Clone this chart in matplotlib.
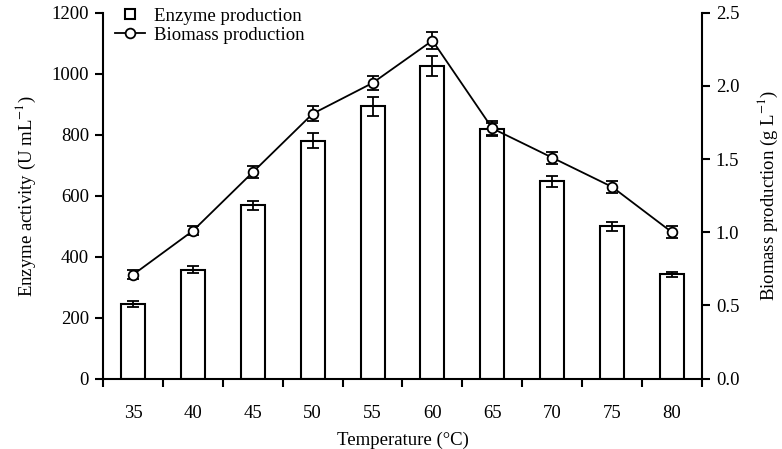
import matplotlib.pyplot as plt
import numpy as np
from matplotlib.lines import Line2D

plt.rcParams["font.family"] = ["Liberation Serif", "DejaVu Serif"]
plt.rcParams["mathtext.fontset"] = "stix"

temps = ["35", "40", "45", "50", "55", "60", "65", "70", "75", "80"]
enzyme = [245, 358, 568, 780, 893, 1025, 820, 648, 500, 343]
enzyme_err = [10, 12, 16, 25, 32, 32, 20, 18, 15, 8]
biomass = [0.71, 1.01, 1.41, 1.81, 2.02, 2.31, 1.71, 1.51, 1.31, 1.00]
biomass_err = [0.03, 0.03, 0.04, 0.05, 0.05, 0.06, 0.05, 0.04, 0.04, 0.04]

FS = 13.5

fig = plt.figure(figsize=(7.82, 4.49), dpi=100)
ax = fig.add_axes([0.1317, 0.1566, 0.766, 0.815])
x = np.arange(len(temps))

ax.bar(x, enzyme, width=0.4, color="white", edgecolor="black", linewidth=1.5, zorder=2)
ax.errorbar(x, enzyme, yerr=enzyme_err, fmt="none", ecolor="black",
            elinewidth=1.3, capsize=4, capthick=1.3, zorder=3)

ax.set_xlim(-0.5, len(temps) - 0.5)
ax.set_ylim(0, 1200)
ax.set_yticks(np.arange(0, 1201, 200))
ax.set_xticks(x)
ax.set_xticklabels(temps)
ax.set_xticks(np.arange(-0.5, len(temps), 1.0), minor=True)
ax.tick_params(axis="x", which="major", length=0, pad=19, labelsize=FS)
ax.tick_params(axis="x", which="minor", length=6, width=1.5, direction="out")
ax.tick_params(axis="y", length=6, width=1.5, direction="out", labelsize=FS, pad=4)
ax.spines["top"].set_visible(False)
ax.spines["right"].set_visible(False)
for s in ["left", "bottom"]:
    ax.spines[s].set_linewidth(1.5)
ax.set_xlabel("Temperature (°C)", fontsize=FS, labelpad=7)
ax.set_ylabel(r"Enzyme activity (U mL$^{-1}$)", fontsize=FS, labelpad=10)

ax2 = ax.twinx()
ax2.errorbar(x, biomass, yerr=biomass_err, fmt="-o", color="black",
             markerfacecolor="white", markeredgecolor="black", markersize=7,
             markeredgewidth=1.3, linewidth=1.3, elinewidth=1.3, capsize=4,
             capthick=1.3, zorder=4)
ax2.set_ylim(0, 2.5)
ax2.set_yticks(np.arange(0, 2.51, 0.5))
ax2.set_yticklabels([f"{v:.1f}" for v in np.arange(0, 2.51, 0.5)])
ax2.tick_params(axis="y", length=6, width=1.5, direction="out", labelsize=FS, pad=4)
ax2.spines["top"].set_visible(False)
ax2.spines["left"].set_visible(False)
ax2.spines["bottom"].set_visible(False)
ax2.spines["right"].set_linewidth(1.5)
ax2.set_ylabel(r"Biomass production (g L$^{-1}$)", fontsize=FS, labelpad=12)

handles = [
    Line2D([], [], linestyle="none", marker="s", markersize=7, markerfacecolor="white",
           markeredgecolor="black", markeredgewidth=1.5),
    Line2D([], [], linestyle="-", marker="o", markersize=7, color="black",
           markerfacecolor="white", markeredgewidth=1.3, linewidth=1.3),
]
ax2.legend(handles, ["Enzyme production", "Biomass production"], loc="upper left",
           bbox_to_anchor=(0.007, 1.035), frameon=False, fontsize=FS,
           handlelength=1.6, handletextpad=0.5, labelspacing=0.1, borderaxespad=0)

fig.savefig("out.png", dpi=100)
